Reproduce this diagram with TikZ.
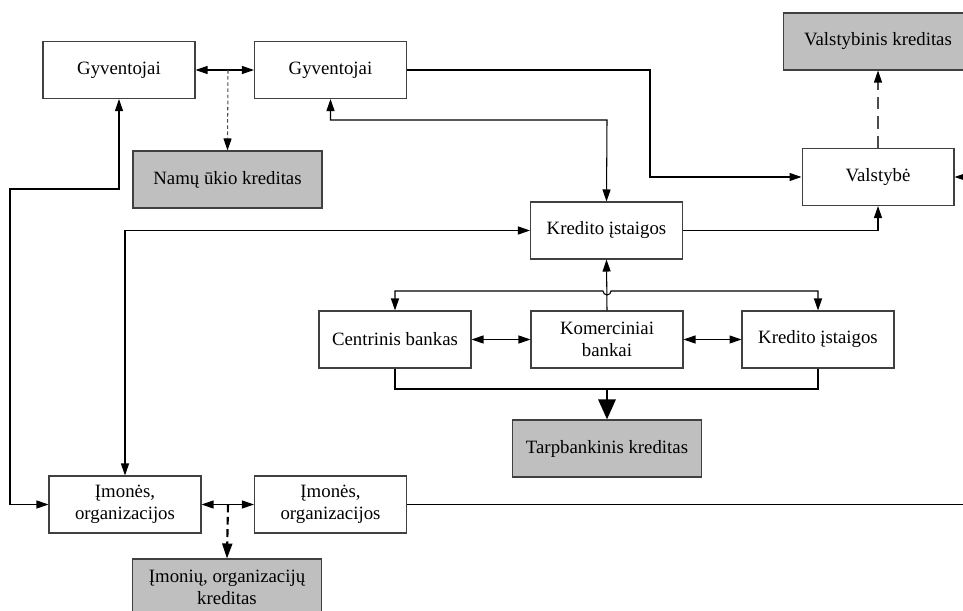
\documentclass[tikz,border=0pt]{standalone}
\usepackage{fontspec}
\setmainfont{Liberation Serif}
\usepackage{tikz}
\usetikzlibrary{arrows.meta, positioning}
\tikzset{
  sector/.style={
    rectangle,
    draw=black!75,
    line width=0.6pt,
    fill=white,
    align=center,
    minimum width=3.04cm,
    minimum height=1.14cm,
    font=\fontsize{10.7pt}{12.5pt}\selectfont,
  },
  credit/.style={
    sector,
    fill=black!25,
    minimum width=3.78cm,
  },
  arrow/.style={
    -{Triangle[length=0.24cm, width=0.16cm, color=black]},
    line width=0.6pt
  },
  dblarrow/.style={
    {Triangle[length=0.24cm, width=0.16cm]}-{Triangle[length=0.24cm, width=0.16cm]},
    line width=0.6pt
  },
  bigarrow/.style={
    -{Triangle[length=0.4cm, width=0.34cm]},
    line width=1.6pt
  },
  dasharrow/.style={
    -{Triangle[length=0.3cm, width=0.2cm]},
    dash pattern=on 4.5pt off 2.5pt,
    line width=1.2pt
  }
}

\begin{document}
\begin{tikzpicture}[x=0.02cm, y=-0.02cm]
  \clip (0,0) rectangle (963,611);

  % Households
  \node [sector] (gyv1) at (119,70)   {Gyventojai};
  \node [sector] (gyv2) at (330.5,70) {Gyventojai};
  \node [credit] (namu) at (227.5,179.5) {Namų ūkio kreditas};

  % State
  \node [credit] (valkred) at (878,41.5) {Valstybinis kreditas};
  \node [sector] (valst)   at (878,177)  {Valstybė};

  % Credit institutions and banks
  \node [sector] (kred) at (606.5,230.5) {Kredito įstaigos};
  \node [sector] (cb)   at (395,339.5)   {Centrinis bankas};
  \node [sector] (kb)   at (607,339.5)   {Komerciniai\\ bankai};
  \node [sector] (ki)   at (818,339.5)   {Kredito įstaigos};
  \node [credit] (tarp) at (607,448.5)   {Tarpbankinis kreditas};

  % Companies
  \node [sector] (imo1)   at (125,504.5)   {Įmonės,\\ organizacijos};
  \node [sector] (imo2)   at (330.5,504.5) {Įmonės,\\ organizacijos};
  \node [credit] (imkred) at (227,587.5)   {Įmonių, organizacijų\\ kreditas};

  % Helper coordinates
  \coordinate (gmid)    at (228,70);
  \coordinate (imid)    at (228,504.5);
  \coordinate (g2turn)  at (650,70);
  \coordinate (topbus)  at (607,120);
  \coordinate (leftbus) at (10,189);
  \coordinate (rightbus) at (990,504.5);
  \coordinate (bankbus) at (607,389);

  % Households
  \draw [dblarrow] (gyv1.east) -- (gyv2.west);
  \draw [arrow, dash pattern=on 2pt off 1.5pt, draw=black!70] (gmid) -- (namu.north);
  \draw [arrow] (gyv2.east) -- (g2turn) |- (valst.west);
  \draw [dblarrow] (gyv2.south) |- (topbus) -- (kred.north);
  \draw [dblarrow] (gyv1.south) |- (leftbus) |- (imo1.west);

  % State
  \draw [arrow] (kred.east) -| (valst.south);
  \draw [arrow, dash pattern=on 7pt off 4pt, draw=black!70] (valst.north) -- (valkred.south);

  % Banks
  \draw [arrow] (kb.north) -- (kred.south);
  \draw [dblarrow] (cb.north) |- (603,291) arc [start angle=180, end angle=0, radius=4] -| (ki.north);
  \draw [dblarrow] (cb.east) -- (kb.west);
  \draw [dblarrow] (kb.east) -- (ki.west);
  \draw [line width=0.6pt] (cb.south) |- (bankbus) -| (ki.south);
  \draw [bigarrow] (bankbus) -- (tarp.north);

  % Companies
  \draw [dblarrow] (kred.west) -| (imo1.north);
  \draw [dblarrow] (imo1.east) -- (imo2.west);
  \draw [dasharrow] (imid) -- (imkred.north);
  \draw [arrow] (imo2.east) -- (rightbus) |- (valst.east);
\end{tikzpicture}
\end{document}
